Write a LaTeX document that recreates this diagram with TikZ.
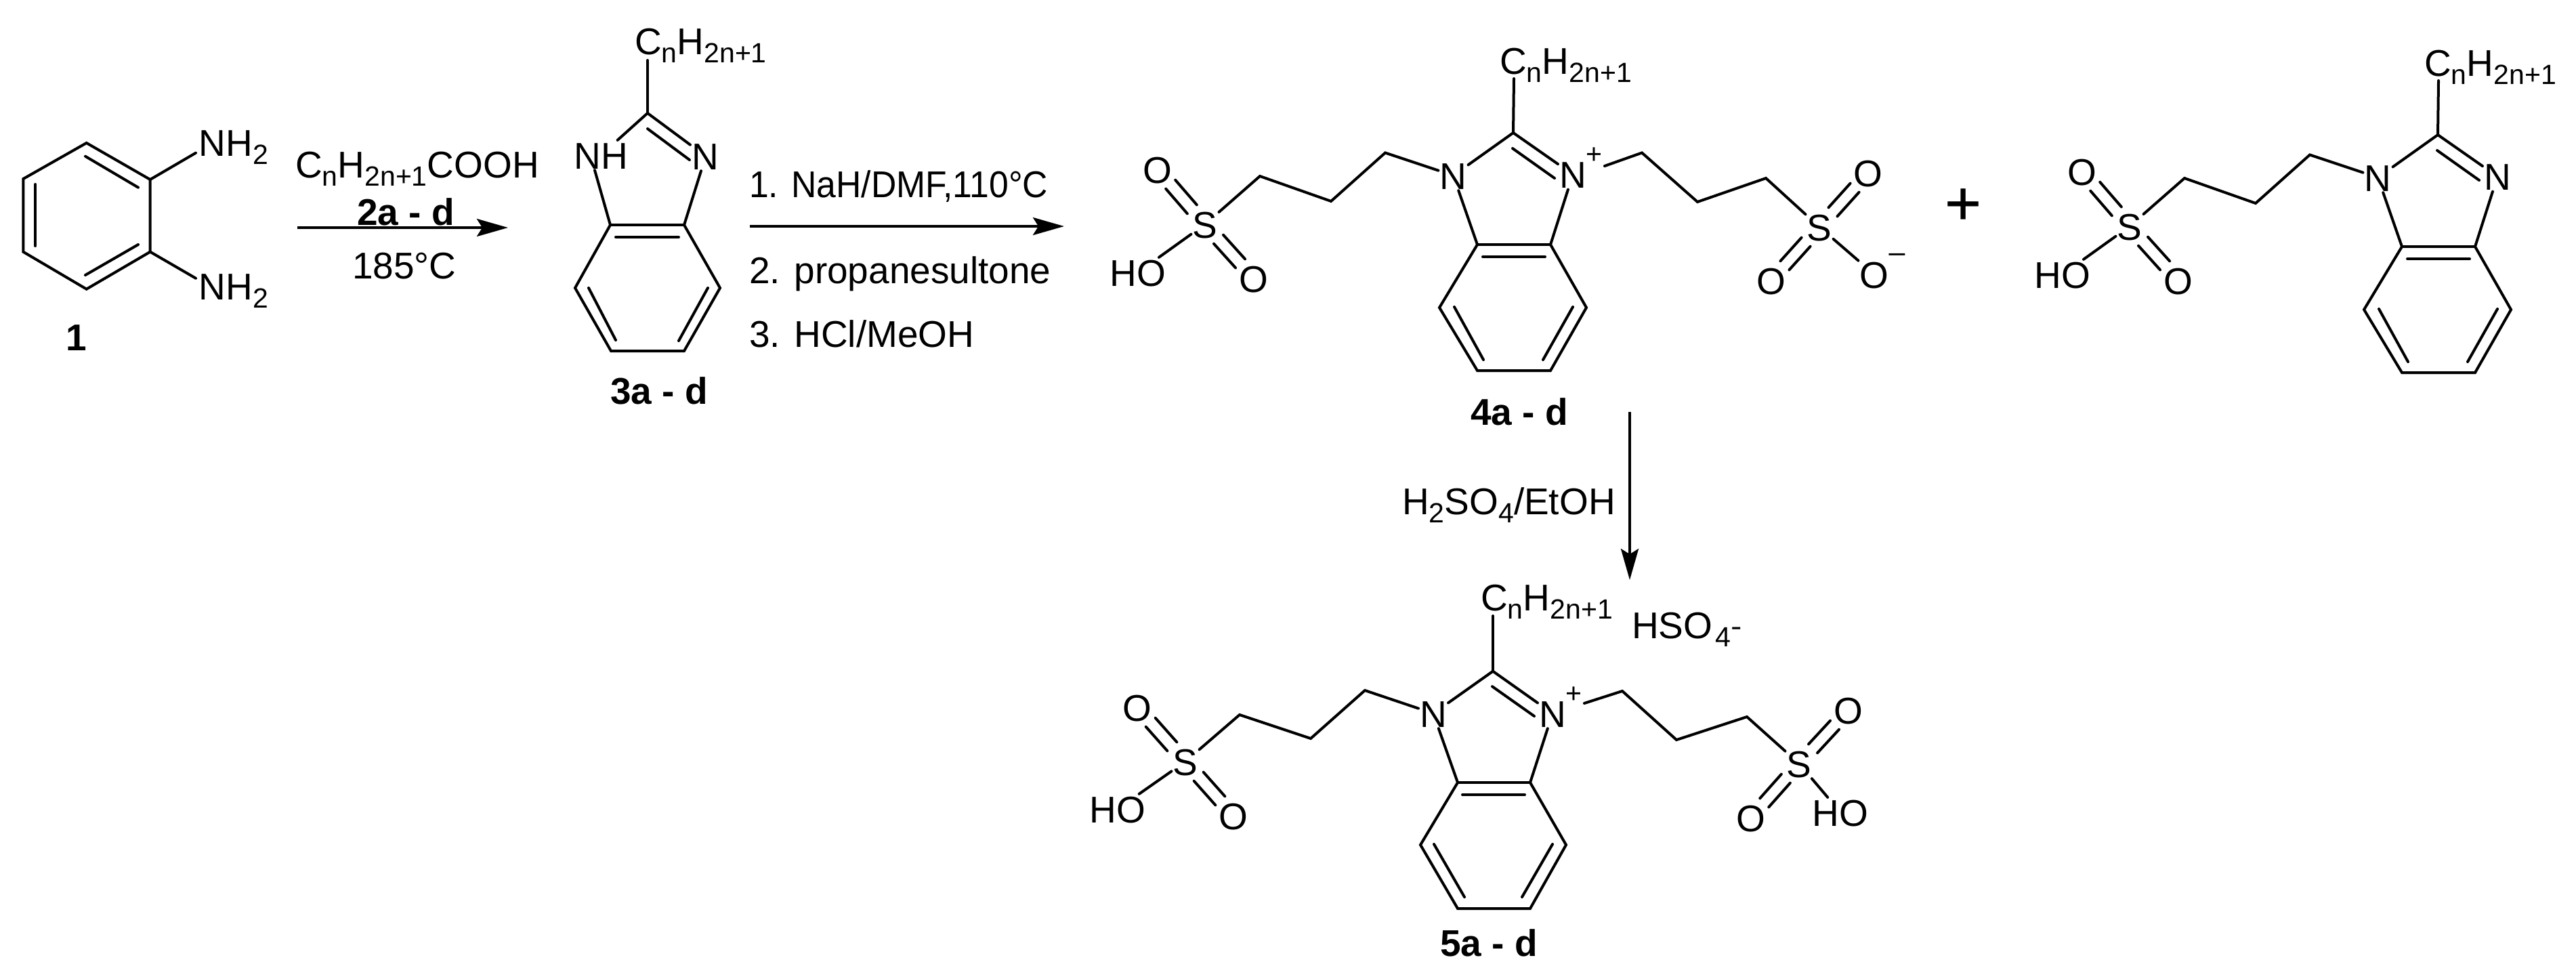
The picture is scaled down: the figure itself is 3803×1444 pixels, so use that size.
\documentclass[tikz,border=0pt]{standalone}
\usepackage{graphicx}
\usepackage{fontspec}
\setmainfont{Liberation Sans}
\newfontfamily\plusfont[FakeBold=0.4]{Liberation Sans}
\usetikzlibrary{arrows.meta}
\newcommand\chemfont{\fontsize{55}{60}\selectfont}
\newcommand\subglyph[1]{{\fontsize{41}{43}\selectfont #1}}
\newcommand\sbs[1]{\raisebox{-12pt}{\subglyph{#1}}}
\newcommand\alkyl{C\sbs{n}H\sbs{2n+1}}
\newcommand\dbl[4]{%
  \draw[bond,transform canvas={shift={(#3,#4)}}] (#1) -- (#2);
  \draw[bond,transform canvas={shift={(-1*#3,-1*#4)}}] (#1) -- (#2);}
\tikzset{
  x=1pt,y=-1pt,
  every node/.style={font=\chemfont,text=black},
  atom/.style={inner sep=2pt,text height=40pt,text depth=0pt,anchor=center,yshift=2pt},
  lab/.style={inner sep=0pt,anchor=base west},
  charge/.style={inner sep=0pt,anchor=center},
  bond/.style={draw=black,line width=4pt,line cap=round,line join=miter},
  heavy/.style={draw=black,line width=4.5pt,line join=miter},
  rxn/.style={draw=black,line width=4pt,-{Stealth[length=46pt,width=26pt,inset=8pt]}},
}
% core of 4a-d and of its mono-substituted partner
\newcommand\core[1]{%
  \coordinate (#1C2) at (2234,196);
  \coordinate (#1a) at (2181,361);
  \coordinate (#1b) at (2289,361);
  \coordinate (#1c) at (2342,454);
  \coordinate (#1d) at (2289,547);
  \coordinate (#1e) at (2181,547);
  \coordinate (#1f) at (2125,454);
  \coordinate (#1p1) at (2045,225.5);
  \coordinate (#1p2) at (1965,297);
  \coordinate (#1p3) at (1860,260);
  \node[atom] (#1N1) at (2145.5,261) {N};
  \node[atom] (#1N3) at (2322,259.5) {N};
  \node[atom] (#1S) at (1779,333) {S};
  \node[atom] (#1O1) at (1709,252) {O};
  \node[atom] (#1O2) at (1851,413) {O};
  \node[atom] (#1HO) at (1680,404) {HO};
  \node[lab] (#1R) at (2214,109) {\alkyl};
  \draw[bond] (#1C2) -- ([shift={(21,7)}]#1R.base west);
  \draw[bond] (#1C2) -- (#1N1);
  \draw[bond] (#1C2) -- (#1N3);
  \draw[bond] ([shift={(-1,23)}]#1C2) -- ([shift={(-27,5.5)}]#1N3.center);
  \draw[bond] (#1N1) -- (#1a);
  \draw[bond] (#1N3) -- (#1b);
  \draw[heavy] (#1a) -- (#1b);
  \draw[bond] ([shift={(8,18)}]#1a) -- ([shift={(-8,18)}]#1b);
  \draw[bond] (#1b) -- (#1c) -- (#1d) -- (#1e) -- (#1f) -- (#1a);
  \draw[bond] ([shift={(22,-1)}]#1f) -- ([shift={(9,-16)}]#1e);
  \draw[bond] ([shift={(-20,-1)}]#1c) -- ([shift={(-11,-16)}]#1d);
  \draw[bond] (#1N1) -- (#1p1) -- (#1p2) -- (#1p3) -- (#1S);
  \dbl{#1S}{#1O1}{7}{-6.5}
  \dbl{#1S}{#1O2}{7}{-6.5}
  \draw[bond] (#1S) -- (#1HO);
}
\begin{document}
\begin{tikzpicture}
\useasboundingbox (0,0) rectangle (3803,1444);
% --- 1
\coordinate (a1) at (127.7,211);
\coordinate (a2) at (221.7,265);
\coordinate (a3) at (221.7,371.7);
\coordinate (a4) at (127.7,426.7);
\coordinate (a5) at (34.3,371.7);
\coordinate (a6) at (34.3,264);
\draw[bond] (a1) -- (a2) -- (a3) -- (a4) -- (a5) -- (a6) -- cycle;
\draw[bond] ([shift={(-1.7,19.7)}]a1) -- ([shift={(-17.7,11.7)}]a2);
\draw[bond] ([shift={(-17.7,-10.7)}]a3) -- ([shift={(-1.7,-20.7)}]a4);
\draw[bond] ([shift={(18,8)}]a6) -- ([shift={(18,-8.7)}]a5);
\node[lab] (nh1) at (293.5,230) {NH\sbs{2}};
\node[lab] (nh2) at (293.5,442.7) {NH\sbs{2}};
\draw[bond] (a2) -- ([shift={(-4.5,-4.3)}]nh1.base west);
\draw[bond] (a3) -- ([shift={(-4.5,-32)}]nh2.base west);
\node[lab,font=\chemfont\bfseries] (l1) at (97,517) {1};
% --- arrow 1
\node[lab] (r1) at (436,262) {C\sbs{n}H\sbs{2n+1}COOH};
\node[lab,font=\chemfont\bfseries] (l2) at (527,332) {2a - d};
\node[lab] (r2) at (520,411) {185°C};
\coordinate (ar1s) at (439,336);
\coordinate (ar1e) at (750,336);
\draw[rxn] (ar1s) -- (ar1e);
% --- 3
\coordinate (bC2) at (956,167);
\coordinate (ba) at (901,332);
\coordinate (bb) at (1010,332);
\coordinate (bc) at (1063,425);
\coordinate (bd) at (1010,518);
\coordinate (be) at (902,518);
\coordinate (bf) at (849,425);
\node[atom] (bNH) at (887,231) {NH};
\node[atom] (bN) at (1041,232) {N};
\node[lab] (bR) at (937,80) {\alkyl};
\draw[bond] (bC2) -- ([shift={(19,9)}]bR.base west);
\draw[bond] (bC2) -- (bNH);
\draw[bond] (bC2) -- (bN);
\draw[bond] ([shift={(0,23)}]bC2) -- ([shift={(-23,6)}]bN.center);
\draw[bond] ([shift={(-9,0)}]bNH.south) -- (ba);
\draw[bond] ([shift={(-6,0)}]bN.south) -- (bb);
\draw[heavy] (ba) -- (bb);
\draw[bond] ([shift={(8,18)}]ba) -- ([shift={(-8,18)}]bb);
\draw[bond] (bb) -- (bc) -- (bd) -- (be) -- (bf) -- (ba);
\draw[bond] ([shift={(20,0)}]bf) -- ([shift={(7,-16)}]be);
\draw[bond] ([shift={(-18,0)}]bc) -- ([shift={(-8,-15)}]bd);
\node[lab,font=\chemfont\bfseries] (l3) at (901,596) {3a - d};
% --- arrow 2
\node[lab] (r3) at (1106,291) {\scalebox{0.94}[1]{1. NaH/DMF,110°C}};
\node[lab] (r4) at (1106,418) {2. propanesultone};
\node[lab] (r5) at (1106,512) {3. HCl/MeOH};
\coordinate (ar2s) at (1107,334);
\coordinate (ar2e) at (1571,334);
\draw[rxn] (ar2s) -- (ar2e);
% --- 4
\core{c}
\node[charge] (cplus) at (2353,230) {\subglyph{+}};
\coordinate (cq1) at (2424,225.5);
\coordinate (cq2) at (2506,298);
\coordinate (cq3) at (2607,263);
\node[atom] (cS2) at (2686,337) {S};
\node[atom] (cO3) at (2758,257) {O};
\node[atom] (cO4) at (2615,416) {O};
\node[atom] (cO5) at (2767,407) {O};
\node[charge] (cminus) at (2801,382) {\scalebox{1.2}[1]{\subglyph{−}}};
\draw[bond] ([shift={(47,-12.5)}]cN3.center) -- (cq1) -- (cq2) -- (cq3) -- (cS2);
\dbl{cS2}{cO3}{6.5}{6.5}
\dbl{cS2}{cO4}{6.5}{6.5}
\draw[bond] (cS2) -- (cO5);
\node[lab,font=\chemfont\bfseries] (l4) at (2171,627) {4a - d};
% --- plus
\node[charge,font=\fontsize{92}{92}\selectfont\plusfont] (plus) at (2898,305) {+};
% --- mono product
\begin{scope}[shift={(1365,3)}]
\core{d}
\end{scope}
% --- arrow 3
\node[lab] (r6) at (2070,759) {H\sbs{2}SO\sbs{4}/EtOH};
\coordinate (ar3s) at (2406,608);
\coordinate (ar3e) at (2406,856);
\draw[rxn] (ar3s) -- (ar3e);
% --- 5
\coordinate (eC2) at (2204,990.7);
\coordinate (ea) at (2152,1155);
\coordinate (eb) at (2259,1155);
\coordinate (ec) at (2312,1247);
\coordinate (ed) at (2259,1341);
\coordinate (ee) at (2152,1341);
\coordinate (ef) at (2097,1247);
\coordinate (ep1) at (2015,1019);
\coordinate (ep2) at (1935,1090);
\coordinate (ep3) at (1830,1055);
\coordinate (eq1) at (2395,1020);
\coordinate (eq2) at (2475,1092);
\coordinate (eq3) at (2579,1058);
\node[atom] (eN1) at (2116,1055) {N};
\node[atom] (eN3) at (2292,1055) {N};
\node[charge] (eplus) at (2323,1026) {\subglyph{+}};
\node[lab] (eR) at (2186,901) {\alkyl};
\node[lab] (ean) at (2409,942) {HSO\hspace{4pt}\sbs{4}\raisebox{4pt}{\scalebox{1.2}[1]{\subglyph{-}}}};
\node[atom] (eS) at (1750,1126) {S};
\node[atom] (eO1) at (1679,1046) {O};
\node[atom] (eO2) at (1821,1206) {O};
\node[atom] (eHO) at (1650,1196) {HO};
\node[atom] (eS2) at (2656,1129) {S};
\node[atom] (eO3) at (2729,1050) {O};
\node[atom] (eO4) at (2585,1209) {O};
\node[atom] (eHO2) at (2717,1201) {HO};
\draw[bond] (eC2) -- ([shift={(18,8)}]eR.base west);
\draw[bond] (eC2) -- (eN1);
\draw[bond] (eC2) -- (eN3);
\draw[bond] ([shift={(-1,22.5)}]eC2) -- ([shift={(-27,4)}]eN3.center);
\draw[bond] (eN1) -- (ea);
\draw[bond] (eN3) -- (eb);
\draw[heavy] (ea) -- (eb);
\draw[bond] ([shift={(7,18)}]ea) -- ([shift={(-8,18)}]eb);
\draw[bond] (eb) -- (ec) -- (ed) -- (ee) -- (ef) -- (ea);
\draw[bond] ([shift={(20,-1)}]ef) -- ([shift={(10,-17)}]ee);
\draw[bond] ([shift={(-20,-1)}]ec) -- ([shift={(-12,-17)}]ed);
\draw[bond] (eN1) -- (ep1) -- (ep2) -- (ep3) -- (eS);
\dbl{eS}{eO1}{7}{-6.5}
\dbl{eS}{eO2}{7}{-6.5}
\draw[bond] (eS) -- (eHO);
\draw[bond] ([shift={(47,-15)}]eN3.center) -- (eq1) -- (eq2) -- (eq3) -- (eS2);
\dbl{eS2}{eO3}{6.5}{6.5}
\dbl{eS2}{eO4}{6.5}{6.5}
\draw[bond] (eS2) -- (eHO2);
\node[lab,font=\chemfont\bfseries] (l5) at (2126,1411) {5a - d};
\end{tikzpicture}
\end{document}
